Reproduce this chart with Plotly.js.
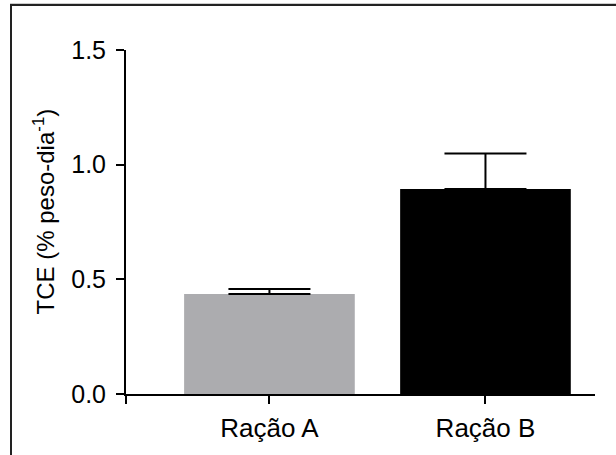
<!DOCTYPE html>
<html>
<head>
<meta charset="utf-8">
<script src="https://cdn.plot.ly/plotly-3.0.1.min.js"></script>
<style>
  html, body { margin: 0; padding: 0; background: #fff; }
  #wrap { position: relative; width: 616px; height: 455px; overflow: hidden; }
  #chart { position: absolute; left: 0; top: 0; width: 616px; height: 455px; }
  #frame { position: absolute; left: 10px; top: 4px; width: 620px; height: 460px;
           border-top: 2px solid #222; border-left: 2px solid #222; pointer-events: none;
           box-shadow: 0 -1px 0 #ccc; }
</style>
</head>
<body>
<div id="wrap">
  <div id="chart"></div>
  <div id="frame"></div>
</div>
<script>
// Data
const categories = ['Ração A', 'Ração B'];
const means = [0.436, 0.894];
const errUpper = [0.022, 0.155];
const barColors = ['#ACACAF', '#000000'];
const yTickVals = [0, 0.5, 1.0, 1.5];
const yTickText = ['0.0', '0.5', '1.0', '1.5'];
const yTitle = 'TCE (% peso-dia<sup>-1</sup>)';

const xPos = categories.map((c, i) => i);
const xRange = [-0.664, 1.507];
const FONT = 'Liberation Sans, Arial, Helvetica, sans-serif';

const trace = {
  type: 'bar',
  x: xPos,
  y: means,
  width: 0.79,
  marker: { color: barColors, line: { width: 0 } },
  error_y: {
    type: 'data',
    symmetric: false,
    array: errUpper,
    arrayminus: errUpper.map(() => 0),
    color: '#000',
    thickness: 2,
    width: 41
  },
  hoverinfo: 'skip'
};

const layout = {
  width: 616,
  height: 455,
  margin: { l: 126, r: 21, t: 50, b: 61 },
  paper_bgcolor: '#fff',
  plot_bgcolor: '#fff',
  showlegend: false,
  font: { family: FONT, color: '#000', size: 25 },
  xaxis: {
    type: 'linear',
    range: xRange,
    tickmode: 'array',
    tickvals: xPos,
    ticktext: categories,
    ticks: 'outside',
    ticklen: 8,
    tickwidth: 2,
    tickcolor: '#000',
    minor: {
      tickmode: 'array',
      tickvals: [xRange[0]],
      ticks: 'outside',
      ticklen: 8,
      tickwidth: 2,
      tickcolor: '#000',
      showgrid: false
    },
    showline: true,
    linewidth: 2,
    linecolor: '#000',
    showgrid: false,
    zeroline: false,
    tickfont: { family: FONT, size: 26, color: '#000' },
    ticklabelstandoff: 2,
    fixedrange: true
  },
  yaxis: {
    range: [0, 1.5],
    tickmode: 'array',
    tickvals: yTickVals,
    ticktext: yTickText,
    ticks: 'outside',
    ticklen: 8,
    tickwidth: 2,
    tickcolor: '#000',
    showline: true,
    linewidth: 2,
    linecolor: '#000',
    showgrid: false,
    zeroline: false,
    tickfont: { family: FONT, size: 25, color: '#000' },
    ticklabelstandoff: 5,
    fixedrange: true
  },
  annotations: [{
    text: yTitle,
    xref: 'paper', yref: 'paper',
    x: -0.1750, y: 0.5305,
    xanchor: 'center', yanchor: 'middle',
    textangle: -90,
    showarrow: false,
    font: { family: FONT, size: 24, color: '#000' }
  }]
};

Plotly.newPlot('chart', [trace], layout, { staticPlot: true, displayModeBar: false });
</script>
</body>
</html>
